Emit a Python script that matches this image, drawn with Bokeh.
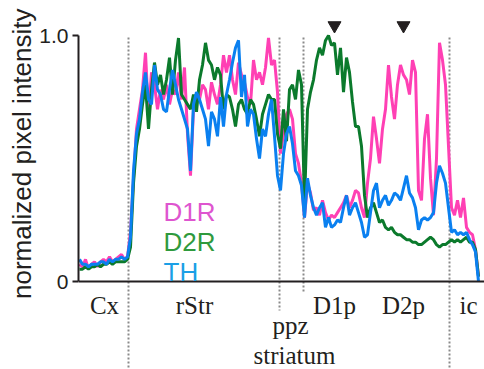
import math
from bokeh.plotting import figure
from bokeh.models import Range1d, FixedTicker, Label, Span, Title
from bokeh.embed import file_html
from bokeh.resources import INLINE

# ---------------- data ----------------
# sample positions along the line scan (arbitrary distance units)
pos = list(range(1, 401, 3))

d1r = [0.07,0.06,0.09,0.05,0.07,0.08,0.06,0.08,0.09,0.08,0.10,0.08,0.09,0.10,0.11,0.09,0.10,
       0.20,0.42,0.62,0.70,0.78,0.93,
       0.68,0.85,0.80,0.70,0.78,0.74,0.80,0.72,0.78,0.76,0.85,0.74,0.87,0.60,0.43,
       0.70,0.76,0.74,0.80,0.78,0.70,0.81,0.76,0.72,0.80,0.92,0.85,0.92,0.82,0.76,
       0.89,0.84,0.81,0.75,0.72,0.90,0.82,0.85,0.80,0.87,0.99,0.88,0.90,0.77,
       0.52,0.60,0.68,0.70,0.66,0.52,0.48,0.40,0.26,
       0.40,0.36,0.29,0.30,0.27,0.33,0.28,0.25,0.27,0.26,0.28,0.30,0.32,0.35,
       0.30,0.33,0.37,0.36,0.30,0.26,0.40,0.50,0.67,0.58,0.48,0.62,0.70,0.88,0.75,
       0.66,0.80,0.88,0.84,0.82,0.76,0.90,
       0.85,0.37,0.33,0.58,0.68,0.42,0.27,0.50,0.97,0.90,0.80,0.55,0.30,0.27,0.33,
       0.26,0.34,0.22,0.20,0.19,0.13,0.02]

d2r = [0.05,0.05,0.06,0.05,0.06,0.06,0.07,0.06,0.07,0.07,0.08,0.07,0.08,0.08,0.08,0.08,0.09,
       0.14,0.40,0.55,0.62,0.72,0.80,
       0.62,0.78,0.89,0.80,0.84,0.76,0.82,0.91,0.76,0.90,0.99,0.76,0.74,0.72,0.70,
       0.76,0.69,0.82,0.88,0.97,0.90,0.88,0.82,0.87,0.84,0.70,0.76,0.75,0.70,0.63,
       0.72,0.74,0.70,0.68,0.74,0.72,0.66,0.59,0.68,0.72,0.76,0.74,0.74,0.60,
       0.54,0.70,0.57,0.78,0.80,0.74,0.86,0.80,0.32,
       0.70,0.77,0.82,0.90,0.95,0.92,0.98,1.00,0.96,0.97,0.84,0.95,0.77,0.91,
       0.85,0.73,0.63,0.63,0.55,0.35,0.26,0.30,0.32,0.28,0.24,0.25,0.22,0.21,0.22,
       0.20,0.19,0.19,0.18,0.17,0.17,0.16,
       0.16,0.15,0.15,0.16,0.17,0.18,0.17,0.15,0.14,0.15,0.15,0.16,0.17,0.16,0.17,
       0.16,0.17,0.18,0.16,0.16,0.13,0.02]

th = [0.09,0.07,0.07,0.06,0.07,0.07,0.07,0.08,0.08,0.07,0.09,0.08,0.09,0.09,0.10,0.09,0.10,
      0.18,0.45,0.60,0.66,0.77,0.85,
      0.74,0.72,0.88,0.78,0.76,0.70,0.69,0.78,0.86,0.80,0.74,0.70,0.66,0.62,0.45,
      0.72,0.77,0.74,0.70,0.66,0.55,0.69,0.66,0.59,0.75,0.63,0.76,0.82,0.89,0.95,
      0.98,0.75,0.84,0.63,0.70,0.68,0.58,0.50,0.62,0.59,0.68,0.74,0.59,0.43,
      0.37,0.52,0.60,0.63,0.56,0.45,0.43,0.39,0.26,
      0.42,0.35,0.30,0.27,0.30,0.32,0.22,0.26,0.22,0.23,0.25,0.24,0.30,0.35,
      0.27,0.30,0.32,0.28,0.24,0.18,0.19,0.28,0.37,0.40,0.30,0.33,0.35,0.31,0.33,
      0.36,0.35,0.33,0.38,0.43,0.36,0.34,
      0.30,0.21,0.25,0.26,0.25,0.26,0.28,0.40,0.47,0.44,0.40,0.30,0.20,0.21,0.19,
      0.20,0.19,0.20,0.17,0.15,0.12,0.00]

series_names = ["D1R", "D2R", "TH"]
boundaries = [50, 201, 225, 371]          # region borders (dotted lines)
region_labels = ["Cx", "rStr", "ppz", "D1p", "D2p", "ic"]
region_centers = [26, 116, 212, 256, 325, 390]
group_label = "striatum"
peak_marks = [256, 325]                   # arrowheads
y_ticks = [0, 1]
y_tick_labels = {0: "0", 1: "1.0"}
y_title = "normalized pixel intensity"

assert len(pos) == len(d1r) == len(d2r) == len(th)

# ---------------- styling / layout ----------------
W, H = 484, 369
LINE_COLORS = {"D1R": "#ff40b4", "D2R": "#0b7a2c", "TH": "#0a80f0"}
TEXT_COLORS = {"D1R": "#de55cf", "D2R": "#2f9a3d", "TH": "#1b9fe6"}
INK = "#231f20"
SANS = "Liberation Sans"
SERIF = "Liberation Serif"
S = 246.0          # pixels per unit of intensity
ZERO = 281.0       # pixel row of intensity 0
Y0, Y1 = (ZERO - H) / S, ZERO / S


def yv(px_row):
    return (ZERO - px_row) / S


p = figure(width=W, height=H, output_backend="svg", toolbar_location=None,
           x_range=Range1d(0, 406), y_range=Range1d(Y0, Y1),
           x_axis_type=None, min_border_left=78, min_border_right=0,
           min_border_top=0, min_border_bottom=0)
p.outline_line_color = None
p.grid.visible = False
p.background_fill_color = "white"
p.border_fill_color = "white"

ax = p.yaxis[0]
ax.bounds = (0, 1)
ax.ticker = FixedTicker(ticks=y_ticks)
ax.major_label_overrides = y_tick_labels
ax.minor_tick_line_color = None
ax.major_tick_out = 6
ax.major_tick_in = 0
ax.major_label_standoff = 4
ax.axis_line_width = 2
ax.axis_line_color = INK
ax.major_tick_line_width = 2
ax.major_tick_line_color = INK
ax.major_label_text_font = SANS
ax.major_label_text_font_size = "21px"
ax.major_label_text_color = INK

# y axis title (vertical title in the left panel, its end near the top)
p.add_layout(Title(text=y_title, align="right", offset=8, standoff=0,
                   text_font=SANS, text_font_size="26px",
                   text_font_style="normal", text_color=INK), "left")

# baseline
p.add_layout(Span(location=0, dimension="width", line_color=INK, line_width=2))

# dotted region borders
tops = [yv(37)] * 4
bottoms = [Y0, yv(310), yv(292), Y0]
p.segment(x0=boundaries, x1=boundaries, y0=tops, y1=bottoms,
          line_color="#8a8a8a", line_width=2, line_dash="2 2")

# traces
for name, ys in zip(series_names, [d1r, d2r, th]):
    p.line(pos, ys, line_color=LINE_COLORS[name], line_width=3)

# arrowheads
p.scatter(peak_marks, [yv(25)] * len(peak_marks), marker="inverted_triangle",
          size=13, fill_color=INK, line_color=INK)

# legend texts
for i, name in enumerate(series_names):
    p.add_layout(Label(x=85, y=yv(211 + 30 * i), text=name,
                       text_font=SANS, text_font_size="26px",
                       text_color=TEXT_COLORS[name], text_align="left",
                       text_baseline="alphabetic"))

# region labels
for lab, cx in zip(region_labels, region_centers):
    base = 325 if lab == "ppz" else 305
    p.add_layout(Label(x=cx, y=yv(base), text=lab, text_font=SERIF,
                       text_font_size="25px", text_color=INK,
                       text_align="center", text_baseline="alphabetic"))
p.add_layout(Label(x=216, y=yv(355), text=group_label, text_font=SERIF,
                   text_font_size="25px", text_color=INK,
                   text_align="center", text_baseline="alphabetic"))

open("out.html", "w").write(file_html(p, INLINE))
